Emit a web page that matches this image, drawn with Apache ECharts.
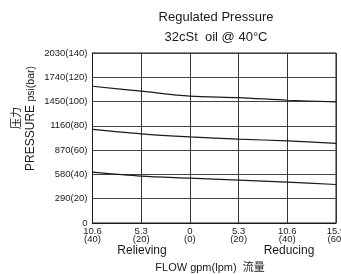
<!DOCTYPE html>
<html>
<head>
<meta charset="utf-8">
<script src="https://cdn.jsdelivr.net/npm/echarts@6/dist/echarts.min.js"></script>
<style>
  html, body { margin: 0; padding: 0; background: #fff; }
  #chart { width: 341px; height: 274px; }
</style>
</head>
<body>
<div id="chart"></div>
<script>
(function() {
    'use strict';

    // x positions 0..5 map to these flow labels
    const flowGpm = ['10.6', '5.3', '0', '5.3', '10.6', '15.9'];
    const flowLpm = ['(40)', '(20)', '(0)', '(20)', '(40)', '(60)'];

    // pressure tick labels psi -> bar
    const psiTicks = [0, 290, 580, 870, 1160, 1450, 1740, 2030];
    const barTicks = [0, 20, 40, 60, 80, 100, 120, 140];

    const flowPos = [0, 1, 2, 3, 4, 5];
    const highCurve = [1633, 1574, 1515, 1498, 1466, 1446];
    const midCurve = [1117, 1064, 1028, 1001, 981, 950];
    const lowCurve = [607, 560, 536, 512, 488, 460];

    const FONT = '"Liberation Sans", Arial, sans-serif';
    const INK = '#1a1a1a';

    function pairs(ys) {
        return flowPos.map(function(x, i) { return [x, ys[i]]; });
    }

    function curve(ys) {
        return {
            type: 'line',
            data: pairs(ys),
            smooth: 0.3,
            symbol: 'none',
            lineStyle: { color: INK, width: 1.2 },
            silent: true
        };
    }

    const chart = echarts.init(document.getElementById('chart'), null, { renderer: 'canvas' });

    chart.setOption({
        animation: false,
        backgroundColor: '#fff',
        textStyle: { fontFamily: FONT },
        grid: {
            left: 92.5, right: 5, top: 53, bottom: 51,
            containLabel: false,
            outerBoundsMode: 'none'
        },
        xAxis: {
            type: 'value',
            min: 0,
            max: 5,
            interval: 1,
            axisLine: { show: true, lineStyle: { color: INK, width: 1 } },
            axisTick: { show: false },
            splitLine: { show: true, lineStyle: { color: '#333', width: 1 } },
            axisLabel: {
                color: INK,
                fontSize: 9.5,
                lineHeight: 8.5,
                margin: 4,
                showMaxLabel: true,
                hideOverlap: false,
                formatter: function(v) {
                    return flowGpm[v] + '\n' + flowLpm[v];
                }
            }
        },
        yAxis: {
            type: 'value',
            min: 0,
            max: 2030,
            interval: 290,
            axisLine: { show: true, lineStyle: { color: INK, width: 1 } },
            axisTick: { show: false },
            splitLine: { show: true, lineStyle: { color: '#444', width: 1 } },
            axisLabel: {
                color: INK,
                fontSize: 9.5,
                margin: 5,
                formatter: function(v) {
                    const i = psiTicks.indexOf(v);
                    return i <= 0 ? String(v) : v + '(' + barTicks[i] + ')';
                }
            }
        },
        series: [curve(highCurve), curve(midCurve), curve(lowCurve)],
        graphic: [
            {
                type: 'rect',
                shape: { x: 92.5, y: 53, width: 243.5, height: 170 },
                style: { fill: 'none', stroke: INK, lineWidth: 1 },
                silent: true
            },
            {
                type: 'text', x: 216, y: 17,
                style: { text: 'Regulated Pressure', font: '13px ' + FONT, fill: INK, align: 'center', verticalAlign: 'middle' }
            },
            {
                type: 'text', x: 216, y: 37,
                style: { text: '32cSt  oil @ 40°C', font: '13px ' + FONT, fill: INK, align: 'center', verticalAlign: 'middle' }
            },
            {
                type: 'text', x: 16, y: 118, rotation: Math.PI / 2,
                style: { text: '压力', font: '11px "Noto Sans CJK SC"', fill: INK, align: 'center', verticalAlign: 'middle' }
            },
            {
                type: 'text', x: 31, y: 118.5, rotation: Math.PI / 2,
                style: {
                    text: '{a|PRESSURE} {b|psi(bar)}',
                    align: 'center', verticalAlign: 'middle',
                    rich: {
                        a: { fontSize: 12, fontFamily: FONT, fill: INK, color: INK },
                        b: { fontSize: 10.5, fontFamily: FONT, fill: INK, color: INK }
                    }
                }
            },
            {
                type: 'text', x: 142, y: 251,
                style: { text: 'Relieving', font: '12px ' + FONT, fill: INK, align: 'center', verticalAlign: 'middle' }
            },
            {
                type: 'text', x: 289, y: 251,
                style: { text: 'Reducing', font: '12px ' + FONT, fill: INK, align: 'center', verticalAlign: 'middle' }
            },
            {
                type: 'text', x: 210, y: 267.5,
                style: { text: 'FLOW gpm(lpm)  流量', font: '11px ' + FONT + ', "Noto Sans CJK SC"', fill: INK, align: 'center', verticalAlign: 'middle' }
            }
        ]
    });
})();
</script>
</body>
</html>
